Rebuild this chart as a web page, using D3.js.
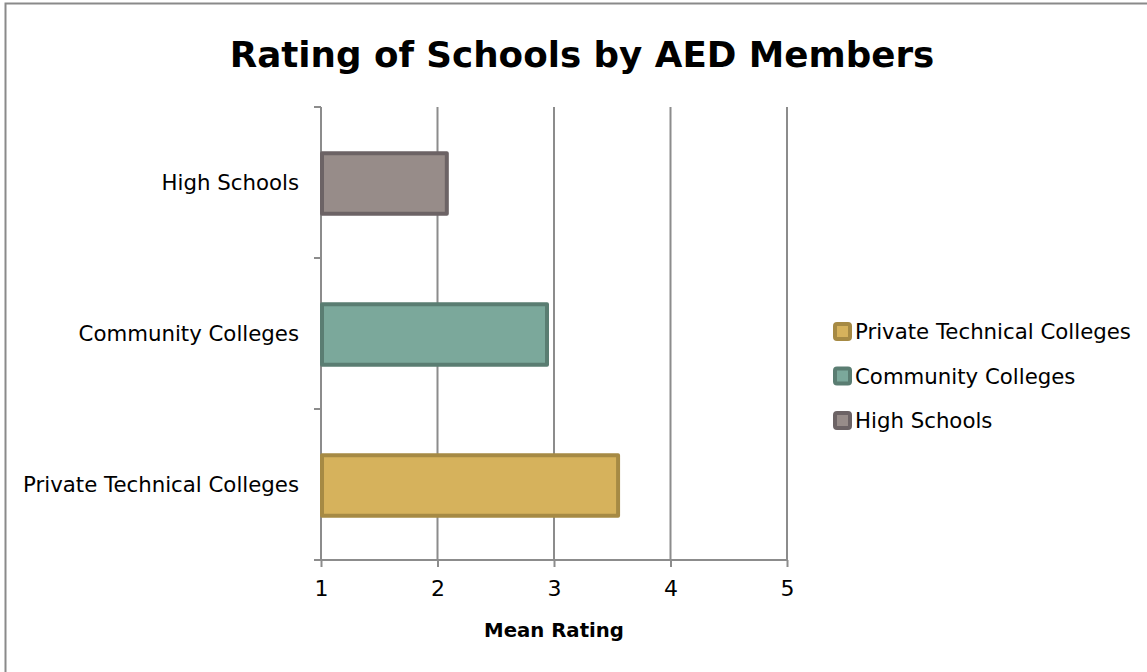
<!DOCTYPE html>
<html>
<head>
<meta charset="utf-8">
<script src="https://cdn.jsdelivr.net/npm/d3@7"></script>
<style>
  html, body { margin: 0; padding: 0; background: #fff; }
  svg { display: block; font-family: "DejaVu Sans", "Lato", sans-serif; }
</style>
</head>
<body>
<svg id="chart" width="1147" height="672"></svg>
<script>
// Mean ratings of each school type
const categories = ["High Schools", "Community Colleges", "Private Technical Colleges"];
const values = [2.08, 2.94, 3.55];
const legendOrder = ["Private Technical Colleges", "Community Colleges", "High Schools"];
const xTicks = [1, 2, 3, 4, 5];
const fills = {
  "High Schools": "#978c89",
  "Community Colleges": "#7ba89b",
  "Private Technical Colleges": "#d6b25c"
};
const strokes = {
  "High Schools": "#6c6365",
  "Community Colleges": "#5a7d72",
  "Private Technical Colleges": "#a68a44"
};
const titleText = "Rating of Schools by AED Members";
const xTitle = "Mean Rating";

const svg = d3.select("#chart");
const W = 1147, H = 672;

// scale a text's font size so it spans the given width
function fitWidth(sel, width) {
  const base = +sel.attr("font-size");
  const w = sel.node().getComputedTextLength();
  sel.attr("font-size", (base * width / w).toFixed(2));
}

// chart frame (extends past the right and bottom edge)
svg.append("rect")
  .attr("x", 5.5).attr("y", 3.5)
  .attr("width", W + 20).attr("height", H + 20)
  .attr("fill", "#fff").attr("stroke", "#8a8a8a").attr("stroke-width", 2);

const plot = { left: 321, right: 787, top: 107, bottom: 560 };

const x = d3.scaleLinear().domain([1, 5]).range([plot.left, plot.right]);
const y = d3.scaleBand().domain(categories)
  .range([plot.top, plot.bottom])
  .paddingInner(0.6).paddingOuter(0.3);

// title
const title = svg.append("text")
  .attr("x", 582).attr("y", 67)
  .attr("text-anchor", "middle")
  .attr("font-weight", "bold").attr("font-size", 40)
  .attr("fill", "#000")
  .text(titleText);
fitWidth(title, 705);

// vertical gridlines
svg.append("g").selectAll("line")
  .data(xTicks.slice(1))
  .join("line")
  .attr("x1", d => x(d)).attr("x2", d => x(d))
  .attr("y1", plot.top).attr("y2", plot.bottom)
  .attr("stroke", "#8c8c8c").attr("stroke-width", 2);

// x axis
const xAxis = svg.append("g")
  .attr("transform", `translate(0,${plot.bottom})`)
  .call(d3.axisBottom(x).tickValues(xTicks).tickSize(7).tickPadding(13).tickSizeOuter(0).tickFormat(d3.format("d")))
  .attr("font-family", null).attr("font-size", null);
xAxis.select(".domain").remove();
xAxis.selectAll(".tick line").attr("stroke", "#8c8c8c").attr("stroke-width", 2);
xAxis.selectAll(".tick text").attr("font-size", 22).attr("fill", "#000");

// x axis baseline, extended left to meet the category ticks
svg.append("line")
  .attr("x1", plot.left - 7).attr("x2", plot.right)
  .attr("y1", plot.bottom).attr("y2", plot.bottom)
  .attr("stroke", "#8c8c8c").attr("stroke-width", 2);

// y axis: ticks at band boundaries
const boundaries = categories.map(c => y(c) - y.step() * y.paddingInner() / 2);
boundaries.push(plot.bottom);
svg.append("line")
  .attr("x1", plot.left).attr("x2", plot.left)
  .attr("y1", plot.top).attr("y2", plot.bottom)
  .attr("stroke", "#8c8c8c").attr("stroke-width", 2);
svg.append("g").selectAll("line")
  .data(boundaries)
  .join("line")
  .attr("x1", plot.left - 7).attr("x2", plot.left)
  .attr("y1", d => d).attr("y2", d => d)
  .attr("stroke", "#8c8c8c").attr("stroke-width", 2);

// shared label size, fitted on the longest category name
const probe = svg.append("text").attr("font-size", 20).text(categories[2]);
fitWidth(probe, 276);
const labelSize = +probe.attr("font-size");
probe.remove();

// category labels
svg.append("g").selectAll("text")
  .data(categories)
  .join("text")
  .attr("x", plot.left - 22)
  .attr("y", d => y(d) + y.bandwidth() / 2)
  .attr("dy", "0.35em")
  .attr("text-anchor", "end")
  .attr("font-size", labelSize).attr("fill", "#000")
  .text(d => d);

// bars
svg.append("g").selectAll("rect")
  .data(categories.map((c, i) => ({ c, v: values[i] })))
  .join("rect")
  .attr("x", x(1) + 1)
  .attr("y", d => y(d.c) + 1)
  .attr("width", d => x(d.v) - x(1) - 1)
  .attr("height", y.bandwidth())
  .attr("fill", d => fills[d.c])
  .attr("stroke", d => strokes[d.c])
  .attr("stroke-width", 4)
  .attr("stroke-linejoin", "round");

// x axis title
const xt = svg.append("text")
  .attr("x", 554).attr("y", 637)
  .attr("text-anchor", "middle")
  .attr("font-weight", "bold").attr("font-size", 20)
  .attr("fill", "#000")
  .text(xTitle);
fitWidth(xt, 140);

// legend
const legend = svg.append("g").selectAll("g")
  .data(legendOrder)
  .join("g")
  .attr("transform", (d, i) => `translate(835,${332 + i * 44.5})`);
legend.append("rect")
  .attr("x", 0).attr("y", -8)
  .attr("width", 15).attr("height", 15)
  .attr("rx", 2)
  .attr("fill", d => fills[d])
  .attr("stroke", d => strokes[d])
  .attr("stroke-width", 4);
legend.append("text")
  .attr("x", 20).attr("y", 0)
  .attr("dy", "0.35em")
  .attr("font-size", labelSize).attr("fill", "#000")
  .text(d => d);
</script>
</body>
</html>
